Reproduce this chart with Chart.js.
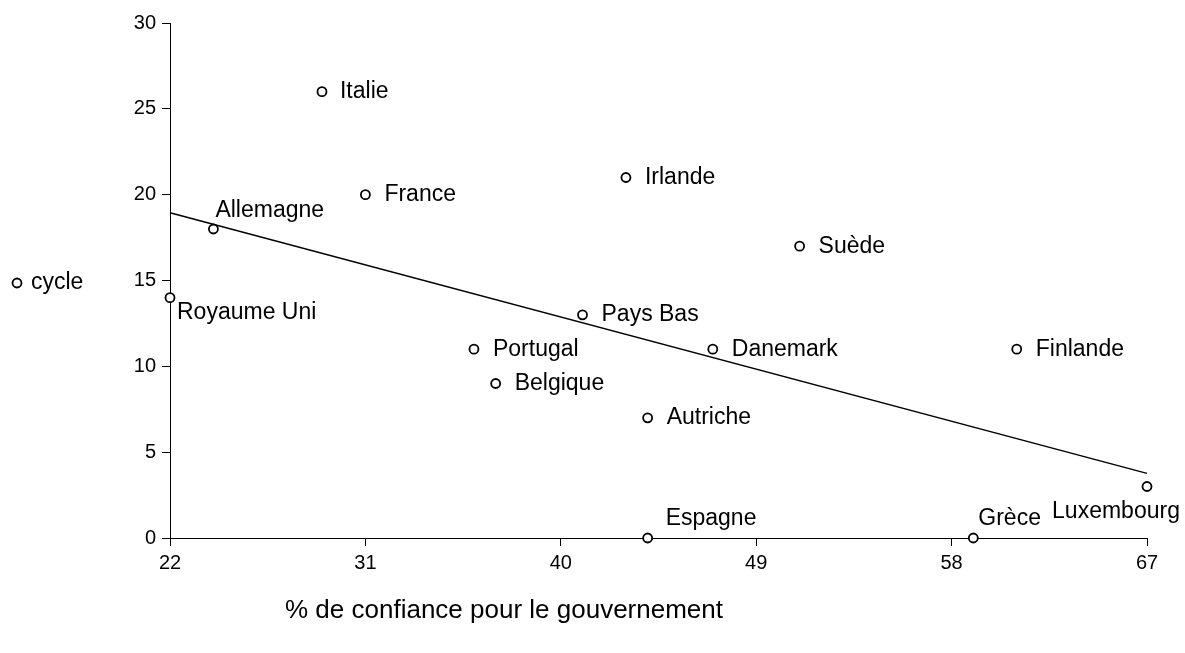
<!DOCTYPE html>
<html><head><meta charset="utf-8">
<script src="https://cdn.jsdelivr.net/npm/chart.js@4/dist/chart.umd.min.js"></script>
<style>html,body{margin:0;padding:0;background:#fff}#wrap{width:1185px;height:653px}</style>
</head><body><div id="wrap"><canvas id="c" width="1185" height="653"></canvas></div>
<script>
const countries = ["Italie","France","Allemagne","Royaume Uni","Irlande","Suède","Pays Bas","Portugal","Belgique","Danemark","Autriche","Finlande","Luxembourg","Espagne","Grèce"];
const confiance = [29,31,24,22,43,51,41,36,37,47,44,61,67,44,59];
const cycle = [26,20,18,14,21,17,13,11,9,11,7,11,3,0,0];
const xTicks = [22,31,40,49,58,67];
const yTicks = [0,5,10,15,20,25,30];
const seriesName = "cycle";
const xTitle = "% de confiance pour le gouvernement";

// least-squares trend line
const n = confiance.length;
const mx = confiance.reduce((a,b)=>a+b,0)/n, my = cycle.reduce((a,b)=>a+b,0)/n;
let sxy=0, sxx=0;
for (let i=0;i<n;i++){ sxy+=(confiance[i]-mx)*(cycle[i]-my); sxx+=(confiance[i]-mx)**2; }
const slope = sxy/sxx, icpt = my - slope*mx;
const xMin = xTicks[0], xMax = xTicks[xTicks.length-1];
const trend = [xMin, xMax].map(x=>({x, y: icpt + slope*x}));

const FONT = "'Liberation Sans', Arial, sans-serif";
const labelPlace = {
  "Allemagne": {dx:2, dy:-18, align:"left"},
  "Royaume Uni": {dx:7, dy:15, align:"left"},
  "Luxembourg": {dx:-31, dy:25, align:"center"},
  "Espagne": {dx:18, dy:-19, align:"left"},
  "Grèce": {dx:5, dy:-19, align:"left"},
  "Italie": {dx:18, dy:0, align:"left"}
};
const labelsPlugin = {
  id:"labels",
  afterDatasetsDraw(chart){
    const ctx = chart.ctx, meta = chart.getDatasetMeta(1);
    ctx.save();
    ctx.font = "23px " + FONT; ctx.fillStyle = "#000"; ctx.textBaseline = "middle";
    meta.data.forEach((pt,i)=>{
      const p = labelPlace[countries[i]] || {dx:19, dy:0, align:"left"};
      ctx.textAlign = p.align;
      ctx.fillText(countries[i], pt.x + p.dx, pt.y + p.dy);
    });
    // legend
    ctx.beginPath(); ctx.arc(17, 283, 4.5, 0, Math.PI*2);
    ctx.fillStyle="#fff"; ctx.fill(); ctx.lineWidth=1.8; ctx.strokeStyle="#000"; ctx.stroke();
    ctx.fillStyle="#000"; ctx.textAlign="left";
    ctx.fillText(seriesName, 31, 283);
    // axis title
    ctx.font = "26px " + FONT; ctx.textAlign = "center";
    ctx.fillText(xTitle, 504, 611);
    ctx.restore();
  }
};

new Chart(document.getElementById("c"), {
  type: "scatter",
  data: { datasets: [
    { type:"line", data: trend, borderColor:"#000", borderWidth:1.5, pointRadius:0, fill:false, clip:false, order:2 },
    { label: seriesName, data: confiance.map((x,i)=>({x, y: cycle[i]})), clip:false,
      pointRadius:4.5, pointHoverRadius:4.5, pointBackgroundColor:"#fff", pointBorderColor:"#000", pointBorderWidth:1.8, order:1 }
  ]},
  options: {
    responsive:false, animation:false, devicePixelRatio:1,
    layout:{ padding:{ left:100, right:38, top:23, bottom:0 } },
    plugins:{ legend:{display:false}, tooltip:{enabled:false} },
    scales:{
      x:{ type:"linear", min:xMin, max:xMax,
        afterBuildTicks(s){ s.ticks = xTicks.map(v=>({value:v})); },
        afterFit(s){ s.height = 115; },
        grid:{ display:true, drawOnChartArea:false, drawTicks:true, tickLength:8, color:"#000", tickColor:"#000" },
        border:{ display:true, color:"#000", width:1 },
        ticks:{ color:"#000", font:{family:FONT, size:20}, padding:5 }
      },
      y:{ type:"linear", min:0, max:30,
        afterBuildTicks(s){ s.ticks = yTicks.map(v=>({value:v})); },
        afterFit(s){ s.width = 70; },
        grid:{ display:true, drawOnChartArea:false, drawTicks:true, tickLength:8, color:"#000", tickColor:"#000" },
        border:{ display:true, color:"#000", width:1 },
        ticks:{ color:"#000", font:{family:FONT, size:20}, padding:6 }
      }
    }
  },
  plugins:[labelsPlugin]
});
</script></body></html>
